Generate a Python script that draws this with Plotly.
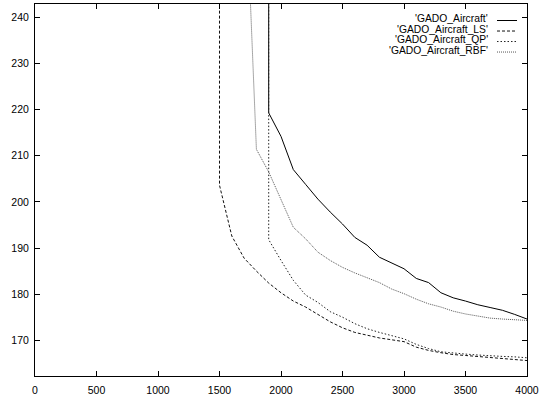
import plotly.graph_objects as go

# ---- data ----
x_gado = [1900, 1900, 2000, 2100, 2200, 2300, 2400, 2500, 2600, 2700, 2800, 2900,
          3000, 3100, 3200, 3300, 3400, 3500, 3600, 3700, 3800, 3900, 4000]
y_gado = [300, 219.3, 214.2, 207.0, 203.8, 200.6, 197.8, 195.2, 192.3, 190.6, 188.0, 186.7,
          185.5, 183.4, 182.5, 180.3, 179.2, 178.5, 177.7, 177.1, 176.5, 175.6, 174.6]

x_ls = [1500, 1500, 1600, 1700, 1800, 1900, 2000, 2100, 2200, 2300, 2400, 2500, 2600,
        2700, 2800, 2900, 3000, 3100, 3200, 3300, 3400, 3500, 3600, 3700, 3800, 3900, 4000]
y_ls = [300, 203.6, 192.6, 187.8, 185.0, 182.4, 180.3, 178.5, 177.2, 175.6, 174.0, 172.7, 171.7,
        171.1, 170.5, 170.1, 169.7, 168.5, 167.8, 167.3, 166.9, 166.7, 166.5, 166.3, 166.1, 165.9, 165.6]

x_qp = [1900, 1900, 2000, 2100, 2200, 2300, 2400, 2500, 2600, 2700, 2800, 2900,
        3000, 3100, 3200, 3300, 3400, 3500, 3600, 3700, 3800, 3900, 4000]
y_qp = [300, 191.8, 187.3, 183.0, 179.8, 178.2, 176.2, 175.0, 173.6, 172.5, 171.7, 171.0,
        170.3, 169.1, 168.2, 167.5, 167.2, 167.0, 166.8, 166.6, 166.5, 166.4, 166.2]

x_rbf = [1700, 1800, 1900, 2000, 2100, 2200, 2300, 2400, 2500, 2600, 2700, 2800, 2900,
         3000, 3100, 3200, 3300, 3400, 3500, 3600, 3700, 3800, 3900, 4000]
y_rbf = [277, 211.4, 206.5, 200.5, 194.5, 192.0, 189.1, 187.3, 185.8, 184.6, 183.5, 182.5, 181.1,
         180.1, 178.9, 177.9, 177.2, 176.3, 175.7, 175.2, 174.8, 174.6, 174.4, 174.3]

names = ["'GADO_Aircraft'", "'GADO_Aircraft_LS'", "'GADO_Aircraft_QP'", "'GADO_Aircraft_RBF'"]
x_ticks = [0, 500, 1000, 1500, 2000, 2500, 3000, 3500, 4000]
y_ticks = [170, 180, 190, 200, 210, 220, 230, 240]

styles = [
    dict(color="#000000", width=1, dash="solid"),
    dict(color="#111111", width=1, dash="3px,2px"),
    dict(color="#222222", width=1, dash="1.5px,2px"),
    dict(color="#555555", width=1, dash="1px,1px"),
]

W, H = 540, 395
L, R, T, B = 35, 13, 4, 19.3
pw, ph = W - L - R, H - T - B

fig = go.Figure()
for xs, ys, nm, st in zip([x_gado, x_ls, x_qp, x_rbf], [y_gado, y_ls, y_qp, y_rbf], names, styles):
    fig.add_trace(go.Scatter(x=xs, y=ys, mode="lines", name=nm, line=st, showlegend=False))

font = dict(family="Liberation Sans, Arial, sans-serif", size=10.5, color="#000000")
lfont = dict(family="Liberation Sans, Arial, sans-serif", size=10.3, color="#000000")

# legend (gnuplot style: text then sample on right)
text_rows = [18.5, 29, 39.5, 50]
sample_rows = [20.5, 31, 41.5, 52]
text_right = 489
s0, s1 = 497, 517
for i, (nm, st) in enumerate(zip(names, styles)):
    fig.add_annotation(x=(text_right - L) / pw, y=1 - (text_rows[i] - T) / ph,
                       xref="paper", yref="paper",
                       text=nm, showarrow=False, xanchor="right", yanchor="middle",
                       font=lfont, borderpad=0)
    ys = 1 - (sample_rows[i] - T) / ph
    fig.add_shape(type="line", xref="paper", yref="paper",
                  x0=(s0 - L) / pw, x1=(s1 - L) / pw, y0=ys, y1=ys,
                  line=st)

axis_common = dict(showgrid=False, zeroline=False, showline=True, linecolor="#000000",
                   linewidth=1, mirror="ticks", ticks="inside", ticklen=5,
                   tickcolor="#000000", tickwidth=1, tickfont=font, automargin=False)

fig.update_layout(
    width=W, height=H,
    margin=dict(l=L, r=R, t=T, b=B, pad=0, autoexpand=False),
    paper_bgcolor="white", plot_bgcolor="white",
    xaxis=dict(range=[0, 4000], tickvals=x_ticks, ticktext=[str(v) for v in x_ticks],
               ticklabelstandoff=4, **axis_common),
    yaxis=dict(range=[162.25, 242.9], tickvals=y_ticks, ticktext=[str(v) for v in y_ticks],
               ticklabelstandoff=3, **axis_common),
)

fig.write_html("out.html")
